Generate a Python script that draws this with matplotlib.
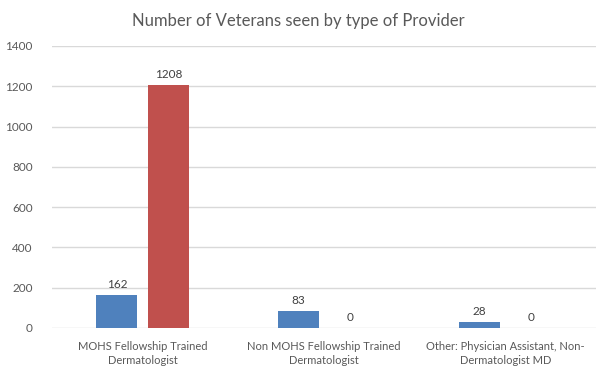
import matplotlib.pyplot as plt
import numpy as np

plt.rcParams['font.family'] = ['Lato', 'DejaVu Sans']

categories = ["MOHS Fellowship Trained\nDermatologist",
              "Non MOHS Fellowship Trained\nDermatologist",
              "Other: Physician Assistant, Non-\nDermatologist MD"]
series_a = [162, 83, 28]
series_b = [1208, 0, 0]
y_ticks = [0, 200, 400, 600, 800, 1000, 1200, 1400]

fig = plt.figure(figsize=(5.96, 3.66), dpi=100)
ax = fig.add_axes([52 / 596, 1 - 328 / 366, 1 - 52 / 596, (328 - 46) / 366])

x = np.arange(len(categories))
w = 0.225
gap = 0.06
off = (w + gap) / 2
bars_a = ax.bar(x - off, series_a, w, color='#4f81bd', zorder=3)
bars_b = ax.bar(x + off, series_b, w, color='#c0504d', zorder=3)

for bars in (bars_a, bars_b):
    for b in bars:
        ax.text(b.get_x() + b.get_width() / 2, b.get_height() + 25,
                f"{int(b.get_height())}", ha='center', va='bottom',
                fontsize=8.5, color='#404040')

ax.set_xlim(-0.5, len(categories) - 0.5)
ax.set_ylim(0, 1400)
ax.set_yticks(y_ticks)
ax.set_xticks(x)
ax.set_xticklabels(categories, fontsize=8, color='#595959', linespacing=1.35)
ax.tick_params(axis='y', labelsize=8.5, labelcolor='#595959', length=0, pad=14)
ax.tick_params(axis='x', length=0, pad=9)
ax.grid(axis='y', color='#d9d9d9', linewidth=1, zorder=0)
for s in ax.spines.values():
    s.set_visible(False)

fig.text(0.5, 1 - 21 / 366, "Number of Veterans seen by type of Provider",
         ha='center', va='center', fontsize=12, color='#595959')

fig.savefig('out.png', dpi=100)
